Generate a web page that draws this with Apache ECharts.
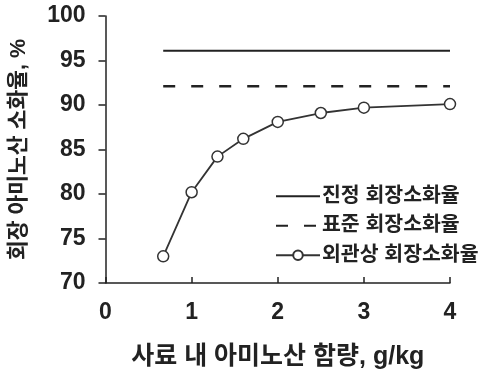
<!DOCTYPE html>
<html><head><meta charset="utf-8">
<script src="https://cdn.jsdelivr.net/npm/echarts@6/dist/echarts.min.js"></script>
<style>html,body{margin:0;padding:0;background:#fff}#c{width:486px;height:375px}</style>
</head><body><div id="c"></div>
<script>
const seriesNames = ['진정 회장소화율', '표준 회장소화율', '외관상 회장소화율'];
const xValues = [0.67, 1, 1.3, 1.6, 2, 2.5, 3, 4];
const apparent = [73, 80.2, 84.2, 86.2, 88.1, 89.1, 89.7, 90.1];
const trueRange = [0.67, 4];
const trueValue = 96.1;
const standardValue = 92.1;
const xTicks = [0, 1, 2, 3, 4];
const yTicks = [70, 75, 80, 85, 90, 95, 100];

const FONT = "'Liberation Sans', 'Noto Sans CJK KR', sans-serif";
const INK = '#222';

const chart = echarts.init(document.getElementById('c'), null, {renderer: 'canvas'});
chart.setOption({
  animation: false,
  backgroundColor: '#fff',
  grid: {left: 103, right: 36, top: 16, bottom: 83},
  legend: {
    orient: 'vertical', left: 270, top: 181, itemGap: 9,
    itemWidth: 44, itemHeight: 12,
    data: [
      {name: seriesNames[0], itemStyle: {opacity: 0}},
      {name: seriesNames[1], itemStyle: {opacity: 0}},
      {name: seriesNames[2]}
    ],
    textStyle: {fontFamily: FONT, fontSize: 20.5, fontWeight: 'bold', color: INK, padding: [0,0,0,-3]}
  },
  xAxis: {
    type: 'value', min: xTicks[0], max: xTicks[xTicks.length-1], interval: 1,
    name: '사료 내 아미노산 함량, g/kg', nameLocation: 'middle', nameGap: 62,
    nameTextStyle: {fontFamily: FONT, fontSize: 25, fontWeight: 'bold', color: INK},
    axisLine: {lineStyle: {color: INK, width: 1.5}},
    axisTick: {inside: true, length: 6, lineStyle: {color: INK, width: 1.5}},
    axisLabel: {fontFamily: FONT, fontSize: 23, fontWeight: 'bold', color: INK, margin: 18},
    splitLine: {show: false}
  },
  yAxis: {
    type: 'value', min: yTicks[0], max: yTicks[yTicks.length-1], interval: 5,
    name: '회장 아미노산 소화율, %', nameLocation: 'middle', nameGap: 76,
    nameTextStyle: {fontFamily: FONT, fontSize: 21.5, fontWeight: 'bold', color: INK},
    axisLine: {show: true, lineStyle: {color: INK, width: 1.5}},
    axisTick: {show: true, inside: false, length: 7, lineStyle: {color: INK, width: 1.5}},
    axisLabel: {fontFamily: FONT, fontSize: 23, fontWeight: 'bold', color: INK, margin: 20},
    splitLine: {show: false}
  },
  series: [
    {
      name: seriesNames[0], type: 'line', symbol: 'none',
      data: trueRange.map(x => [x, trueValue]),
      lineStyle: {color: INK, width: 2}, itemStyle: {color: INK}
    },
    {
      name: seriesNames[1], type: 'line', symbol: 'none',
      data: trueRange.map(x => [x, standardValue]),
      lineStyle: {color: INK, width: 2.5, type: [12, 16]}, itemStyle: {color: INK}
    },
    {
      name: seriesNames[2], type: 'line', symbol: 'circle', symbolSize: 11,
      data: xValues.map((x, i) => [x, apparent[i]]),
      lineStyle: {color: '#333', width: 1.8},
      itemStyle: {color: '#fff', borderColor: '#333', borderWidth: 1.5}
    }
  ]
});
</script></body></html>
